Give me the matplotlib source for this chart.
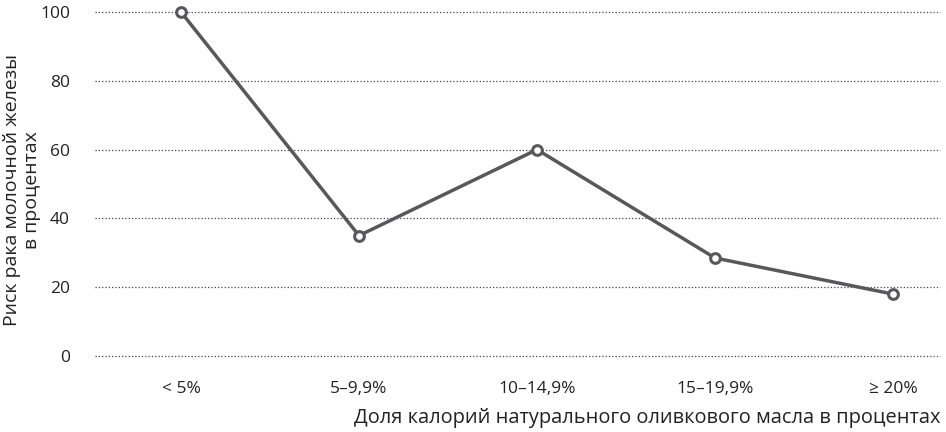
import matplotlib
matplotlib.use("Agg")
import matplotlib.pyplot as plt

categories = ["< 5%", "5–9,9%", "10–14,9%", "15–19,9%", "≥ 20%"]
risk = [100, 35, 60, 28.5, 18]
yticks = [0, 20, 40, 60, 80, 100]

plt.rcParams['font.family'] = ['Open Sans', 'DejaVu Sans']
fig = plt.figure(figsize=(9.46, 4.32), dpi=100)
ax = fig.add_axes([95/946, 1-356/432, (940-95)/946, (356-12)/432])
x = list(range(len(categories)))
ax.plot(x, risk, color='#58585a', lw=2.5, marker='o', ms=7, mfc='white',
        mec='#58585a', mew=2.2, clip_on=False, zorder=3)
ax.set_xlim(-0.483, 4.264)
ax.set_ylim(0, 100)
ax.set_yticks(yticks)
ax.set_xticks(x)
ax.set_xticklabels(categories)
ax.grid(axis='y', linestyle=':', color='#444444', lw=0.9)
for gl in ax.get_ygridlines():
    gl.set_clip_on(False)
for s in ax.spines.values():
    s.set_visible(False)
ax.tick_params(axis='both', length=0, labelsize=12.5, colors='#222222')
ax.tick_params(axis='y', pad=18)
ax.tick_params(axis='x', pad=18)
fig.text(940/946, 1-418/432, "Доля калорий натурального оливкового масла в процентах",
         ha='right', va='center', fontsize=14.4, color='#222222')
fig.text(22/946, 1-190/432, "Риск рака молочной железы\nв процентах", rotation=90,
         ha='center', va='center', fontsize=14, color='#222222', linespacing=1.1)
fig.savefig("out.png", dpi=100)
